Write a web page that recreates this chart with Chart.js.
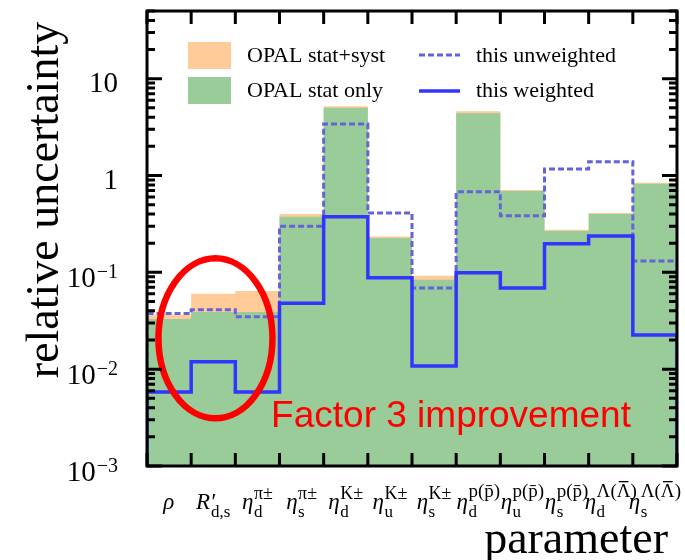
<!DOCTYPE html>
<html>
<head>
<meta charset="utf-8">
<script src="https://cdn.jsdelivr.net/npm/chart.js@4.4.0/dist/chart.umd.min.js"></script>
<style>
  body { margin: 0; background: #fff; }
  canvas { display: block; }
</style>
</head>
<body>
<canvas id="chart" width="685" height="560"></canvas>
<script>
// one bin per fitted parameter
const paramMain = ['ρ', 'R′', 'η', 'η', 'η', 'η', 'η', 'η', 'η', 'η', 'η', 'η']
const paramSub = ['', 'd,s', 'd', 's', 'd', 'u', 's', 'd', 'u', 's', 'd', 's']
const paramSup = ['', '', 'π±', 'π±', 'K±', 'K±', 'K±', 'p(p̄)', 'p(p̄)', 'p(p̄)', 'Λ(Λ̄)', 'Λ(Λ̄)']

// relative uncertainties
const opalStatSyst = [0.0365, 0.060, 0.064, 0.40, 5.2, 0.235, 0.092, 4.6, 0.71, 0.275, 0.41, 0.84]
const opalStatOnly = [0.033, 0.039, 0.039, 0.375, 5.0, 0.226, 0.084, 4.4, 0.69, 0.268, 0.40, 0.82]
const thisUnweighted = [0.0375, 0.041, 0.0347, 0.30, 3.4, 0.41, 0.069, 0.68, 0.384, 1.17, 1.39, 0.131]
const thisWeighted = [0.0058, 0.0119, 0.0058, 0.048, 0.375, 0.088, 0.0108, 0.099, 0.069, 0.197, 0.238, 0.0226]

const yTickExponents = [-3, -2, -1, 0, 1]
const Y_MIN = 1e-3
const Y_MAX = 50

const ORANGE = '#FFCC99'
const GREEN = '#99CC99'
const DASHED = '#6363DA'
const SOLID = '#3434FF'
const SERIF = '"Liberation Serif", "DejaVu Serif", serif'

// histogram outline: up from the floor, along each bin, back down
function histPoints (values) {
  const pts = [{ x: 0, y: Y_MIN }]
  values.forEach((v, i) => {
    pts.push({ x: i, y: v })
    pts.push({ x: i + 1, y: v })
  })
  pts.push({ x: values.length, y: Y_MIN })
  return pts
}

function fillSet (label, values, color, order) {
  return {
    label,
    data: histPoints(values),
    backgroundColor: color,
    borderColor: color,
    borderWidth: 0,
    fill: 'start',
    pointRadius: 0,
    tension: 0,
    order
  }
}

function lineSet (label, values, color, width, dash, order) {
  return {
    label,
    data: histPoints(values),
    borderColor: color,
    borderWidth: width,
    borderDash: dash,
    borderCapStyle: 'butt',
    fill: false,
    pointRadius: 0,
    tension: 0,
    order
  }
}

function drawPowerLabel (ctx, exp, xRight, y) {
  ctx.fillStyle = '#000'
  ctx.textAlign = 'right'
  ctx.textBaseline = 'alphabetic'
  if (exp === 0 || exp === 1) {
    ctx.font = '29px ' + SERIF
    ctx.fillText(exp === 0 ? '1' : '10', xRight, y + 13)
    return
  }
  const sup = '−' + Math.abs(exp)
  ctx.font = '20px ' + SERIF
  const supW = ctx.measureText(sup).width
  ctx.fillText(sup, xRight, y + 6)
  ctx.font = '29px ' + SERIF
  ctx.fillText('10', xRight - supW - 1, y + 15)
}

// superscript text; a barred Lambda gets its bar drawn by hand
function drawSup (ctx, text, x, y) {
  if (!text.includes('Λ̄')) {
    ctx.fillText(text, x, y)
    return
  }
  const plain = text.replace('Λ̄', 'Λ')
  ctx.fillText(plain, x, y)
  const before = ctx.measureText(plain.slice(0, plain.lastIndexOf('Λ'))).width
  const w = ctx.measureText('Λ').width
  ctx.fillRect(x + before + 2, y - 16, w - 4, 1.3)
}

function drawParamLabel (ctx, i, cx) {
  const main = paramMain[i]
  const sub = paramSub[i]
  const sup = paramSup[i]
  const base = 509
  const bigSup = sup.includes('(')
  const supFont = (bigSup ? '19px ' : '18px ') + SERIF
  ctx.textAlign = 'left'
  ctx.textBaseline = 'alphabetic'
  ctx.fillStyle = '#000'

  ctx.font = 'italic 23px ' + SERIF
  const mainW = ctx.measureText(main).width
  const scriptX = main === 'R′' ? ctx.measureText('R').width + 1 : mainW + 0.5
  ctx.font = '17px ' + SERIF
  const subW = ctx.measureText(sub).width
  ctx.font = supFont
  const supW = ctx.measureText(sup.replace('̄', '')).width
  const total = Math.max(mainW, scriptX + Math.max(subW, supW))
  const x0 = cx - total / 2

  ctx.font = 'italic 23px ' + SERIF
  ctx.fillText(main, x0, base)
  if (sub) {
    ctx.font = '17px ' + SERIF
    ctx.fillText(sub, x0 + scriptX, base + 8)
  }
  if (sup) {
    ctx.font = supFont
    drawSup(ctx, sup, x0 + scriptX, bigSup ? base - 12 : base - 10)
  }
}

const decorations = {
  id: 'decorations',
  afterDatasetsDraw (chart) {
    const { ctx, chartArea: area, scales: { x, y } } = chart
    ctx.save()

    // annotation: ellipse and note
    ctx.strokeStyle = '#FF0000'
    ctx.lineWidth = 6.5
    ctx.beginPath()
    ctx.ellipse(x.getPixelForValue(1.55), y.getPixelForValue(0.0208), 57, 80, 0, 0, Math.PI * 2)
    ctx.stroke()
    ctx.fillStyle = '#FF0000'
    ctx.font = '37px "Liberation Sans", Arial, sans-serif'
    ctx.textAlign = 'left'
    ctx.textBaseline = 'alphabetic'
    ctx.fillText('Factor 3 improvement', x.getPixelForValue(2.81), y.getPixelForValue(0.00253))

    // frame and ticks
    ctx.strokeStyle = '#000'
    ctx.lineWidth = 3
    ctx.strokeRect(area.left, area.top, area.right - area.left, area.bottom - area.top)
    ctx.beginPath()
    for (let i = 0; i <= paramMain.length; i++) {
      const px = x.getPixelForValue(i)
      ctx.moveTo(px, area.bottom)
      ctx.lineTo(px, area.bottom - 13)
      ctx.moveTo(px, area.top)
      ctx.lineTo(px, area.top + 13)
    }
    for (let e = -3; e <= 1; e++) {
      for (let m = 1; m <= 9; m++) {
        const v = m * Math.pow(10, e)
        if (v < Y_MIN || v > Y_MAX) continue
        const py = y.getPixelForValue(v)
        const len = m === 1 ? 15 : 8
        ctx.moveTo(area.left, py)
        ctx.lineTo(area.left + len, py)
        ctx.moveTo(area.right, py)
        ctx.lineTo(area.right - len, py)
      }
    }
    ctx.stroke()

    // tick labels
    yTickExponents.forEach(e => drawPowerLabel(ctx, e, 118, y.getPixelForValue(Math.pow(10, e))))
    paramMain.forEach((_, i) => drawParamLabel(ctx, i, x.getPixelForValue(i + 0.5)))

    // axis titles
    ctx.fillStyle = '#000'
    ctx.font = '46px ' + SERIF
    ctx.textAlign = 'right'
    ctx.fillText('parameter', 668, 553)
    ctx.save()
    ctx.translate(58, 200)
    ctx.rotate(-Math.PI / 2)
    ctx.textAlign = 'center'
    ctx.fillText('relative uncertainty', 0, 0)
    ctx.restore()

    // legend
    ctx.font = '22px ' + SERIF
    ctx.textAlign = 'left'
    ctx.textBaseline = 'middle'
    ctx.fillStyle = ORANGE
    ctx.fillRect(188, 42, 43, 27)
    ctx.fillStyle = GREEN
    ctx.fillRect(188, 77, 43, 27)
    ctx.fillStyle = '#000'
    ctx.fillText('OPAL stat+syst', 247, 56)
    ctx.fillText('OPAL stat only', 247, 91)
    ctx.fillText('this unweighted', 476, 56)
    ctx.fillText('this weighted', 476, 91)
    ctx.lineCap = 'butt'
    ctx.strokeStyle = DASHED
    ctx.lineWidth = 3
    ctx.setLineDash([6, 3])
    ctx.beginPath()
    ctx.moveTo(419, 55)
    ctx.lineTo(460, 55)
    ctx.stroke()
    ctx.setLineDash([])
    ctx.strokeStyle = SOLID
    ctx.lineWidth = 3.5
    ctx.beginPath()
    ctx.moveTo(419, 91)
    ctx.lineTo(460, 91)
    ctx.stroke()

    ctx.restore()
  }
}

new Chart(document.getElementById('chart').getContext('2d'), {
  type: 'line',
  data: {
    datasets: [
      fillSet('OPAL stat+syst', opalStatSyst, ORANGE, 4),
      fillSet('OPAL stat only', opalStatOnly, GREEN, 3),
      lineSet('this unweighted', thisUnweighted, DASHED, 3, [6, 3], 2),
      lineSet('this weighted', thisWeighted, SOLID, 3.5, [], 1)
    ]
  },
  options: {
    responsive: false,
    animation: false,
    layout: { padding: { left: 147, right: 8, top: 11, bottom: 94 } },
    scales: {
      x: { type: 'linear', min: 0, max: paramMain.length, display: false },
      y: { type: 'logarithmic', min: Y_MIN, max: Y_MAX, display: false }
    },
    plugins: {
      legend: { display: false },
      tooltip: { enabled: false }
    }
  },
  plugins: [decorations]
})
</script>
</body>
</html>
